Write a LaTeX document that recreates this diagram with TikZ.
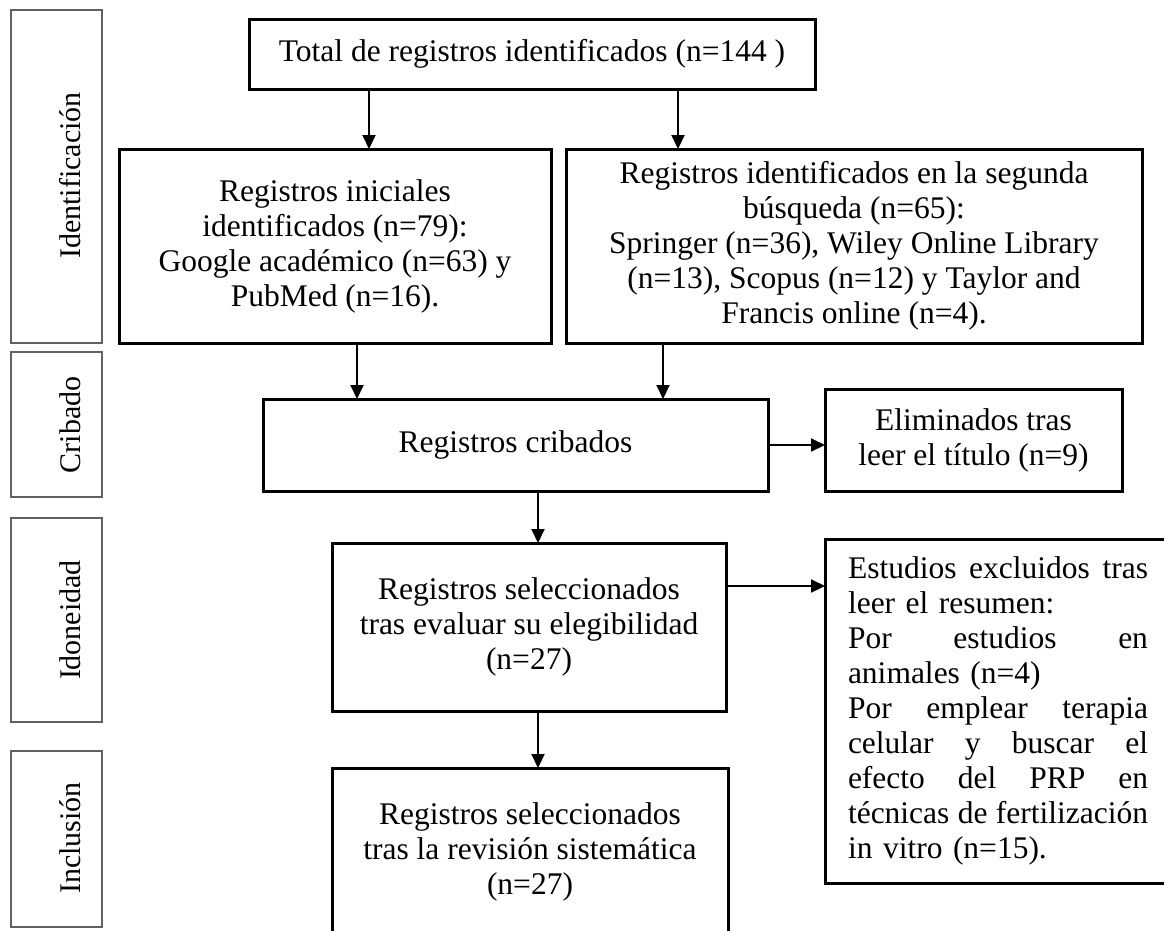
\documentclass[tikz,border=0pt]{standalone}
\usepackage{fontspec}
\setmainfont{Liberation Serif}
\usetikzlibrary{arrows.meta}
\newcommand{\jline}[1]{\leavevmode\hbox to 300pt{#1}}
\begin{document}
\begin{tikzpicture}[x=1pt,y=1pt,
  mainbox/.style={draw=black, line width=3pt, inner sep=0pt, outer sep=0pt, align=center, font=\fontsize{31.5}{35}\selectfont},
  sidebox/.style={draw=black!62, line width=2pt, inner sep=0pt, outer sep=0pt},
  sidetext/.style={rotate=90, anchor=base, font=\fontsize{30}{35}\selectfont, inner sep=0pt},
  arr/.style={line width=2pt, -{Triangle[length=14pt,width=13pt]}}]
\useasboundingbox (0,0) rectangle (1164,-930);
\clip (0,0) rectangle (1164,-930);

% side labels
\node[sidebox, minimum width=91pt, minimum height=333pt] (sid) at (56.5,-176.5) {};
\node[sidetext] (tid) at (80,-175.5) {Identificación};
\node[sidebox, minimum width=91pt, minimum height=145pt] (scr) at (56.5,-424.5) {};
\node[sidetext] (tcr) at (80,-425) {Cribado};
\node[sidebox, minimum width=91pt, minimum height=204pt] (sido) at (56.5,-620) {};
\node[sidetext] (tido) at (80,-620) {Idoneidad};
\node[sidebox, minimum width=91pt, minimum height=176pt] (sinc) at (56.5,-839) {};
\node[sidetext] (tinc) at (80,-838) {Inclusión};

% main boxes
\node[mainbox, minimum width=566pt, minimum height=70pt] (tot) at (532,-54) {Total de registros identificados (n=144 )};
\node[mainbox, minimum width=432pt, minimum height=194pt] (left) at (335,-246)
  {Registros iniciales\\ identificados (n=79):\\ Google académico (n=63) y\\ PubMed (n=16).};
\node[mainbox, minimum width=576pt, minimum height=194pt] (right) at (854,-246)
  {Registros identificados en la segunda\\ búsqueda (n=65):\\ Springer (n=36), Wiley Online Library\\ (n=13), Scopus (n=12) y Taylor and\\ Francis online (n=4).};
\node[mainbox, minimum width=505pt, minimum height=92pt] (crib) at (515.5,-445) {Registros cribados};
\node[mainbox, minimum width=297pt, minimum height=102pt] (elim) at (973.5,-440)
  {Eliminados tras\\ leer el título (n=9)};
\node[mainbox, minimum width=394pt, minimum height=168pt] (sel) at (529,-627)
  {Registros seleccionados\\ tras evaluar su elegibilidad\\ (n=27)};
\node[mainbox, minimum width=346pt, minimum height=344pt, text width=300pt, align=left] (est) at (998,-711)
  {\jline{Estudios\hfill excluidos\hfill tras}\\
   leer el resumen:\\
   \jline{Por\hfill estudios\hfill en}\\
   animales (n=4)\\
   \jline{Por\hfill emplear\hfill terapia}\\
   \jline{celular\hfill y\hfill buscar\hfill el}\\
   \jline{efecto\hfill del\hfill PRP\hfill en}\\
   \jline{técnicas\hfill de\hfill fertilización}\\
   in vitro (n=15).};
\node[mainbox, minimum width=396pt, minimum height=168pt] (incl) at (530,-852)
  {Registros seleccionados\\ tras la revisión sistemática\\ (n=27)};

% connector guides
\coordinate (a1) at (369,0);
\coordinate (a2) at (678,0);
\coordinate (a3) at (357,0);
\coordinate (a4) at (663,0);
\coordinate (a5) at (538,0);
\coordinate (a6) at (0,-586);

\draw[arr] (tot.south -| a1) -- (left.north -| a1);
\draw[arr] (tot.south -| a2) -- (right.north -| a2);
\draw[arr] (left.south -| a3) -- (crib.north -| a3);
\draw[arr] (right.south -| a4) -- (crib.north -| a4);
\draw[arr] (crib.south -| a5) -- (sel.north -| a5);
\draw[arr] (sel.south -| a5) -- (incl.north -| a5);
\draw[arr] (crib.east) -- (elim.west |- crib.east);
\draw[arr] (sel.east |- a6) -- (est.west |- a6);
\end{tikzpicture}
\end{document}
